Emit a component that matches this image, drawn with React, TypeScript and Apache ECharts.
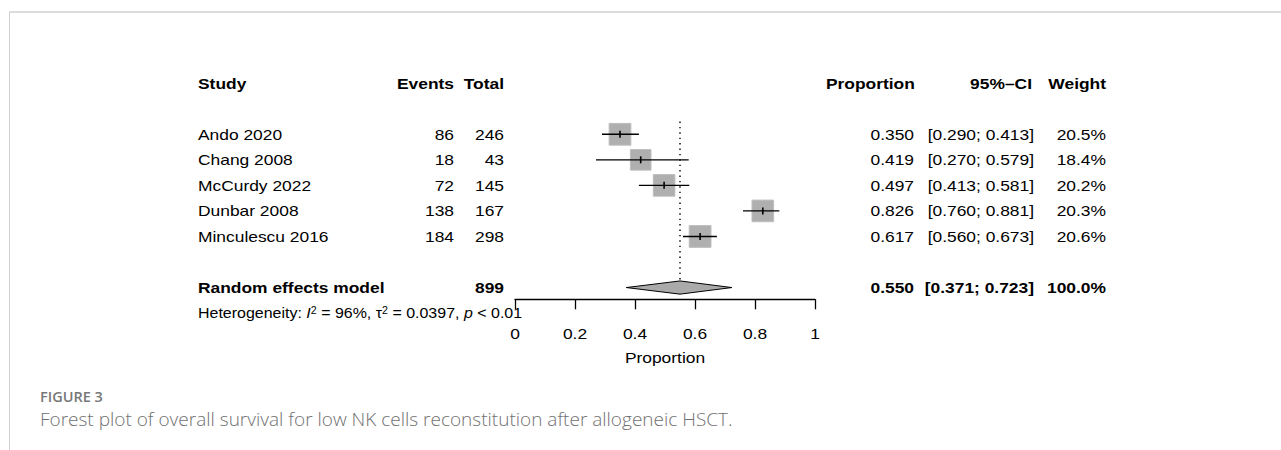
import React, { useEffect, useRef } from "react";
import * as echarts from "echarts";

const studies = ["Ando 2020", "Chang 2008", "McCurdy 2022", "Dunbar 2008", "Minculescu 2016"];
const events = [86, 18, 72, 138, 184];
const totals = [246, 43, 145, 167, 298];
const proportions = [0.35, 0.419, 0.497, 0.826, 0.617];
const ciLower = [0.29, 0.27, 0.413, 0.76, 0.56];
const ciUpper = [0.413, 0.579, 0.581, 0.881, 0.673];
const weights = [20.5, 18.4, 20.2, 20.3, 20.6];

const pooledLabel = "Random effects model";
const pooledTotal = 899;
const pooledEst = 0.55;
const pooledLower = 0.371;
const pooledUpper = 0.723;
const pooledWeight = 100;

const hetI2 = "96%";
const hetTau2 = "0.0397";
const hetP = "< 0.01";

const headers = ["Study", "Events", "Total", "Proportion", "95%\u2013CI", "Weight"];
const xTicks = [0, 0.2, 0.4, 0.6, 0.8, 1];
const axisName = "Proportion";
const captionTitle = "FIGURE 3";
const captionText = "Forest plot of overall survival for low NK cells reconstitution after allogeneic HSCT.";

// row indices (y axis value space)
const headerRow = 0;
const studyRows = [2, 3, 4, 5, 6];
const pooledRow = 8;
const hetRow = 9;

const FONT = "'Liberation Sans', Arial, Helvetica, sans-serif";
const SX = 1.16;
const COL = { study: 198, events: 454, total: 504, prop: 914, ci: 1034, weight: 1106 };

function txt(x: number, y: number, text: string, align: string, bold = false, extra: any = {}, sx = SX) {
  return {
    type: "text",
    x,
    y,
    scaleX: sx,
    style: {
      text,
      x: 0,
      y: 0,
      fill: "#000",
      fontSize: 15,
      fontFamily: FONT,
      fontWeight: bold ? "bold" : "normal",
      align,
      verticalAlign: "middle",
      ...extra,
    },
  };
}

const fmtCI = (l: number, u: number) => `[${l.toFixed(3)}; ${u.toFixed(3)}]`;

export default function App() {
  const ref = useRef<HTMLDivElement>(null);
  useEffect(() => {
    const chart = echarts.init(ref.current!, null, { renderer: "svg" });
    const option: any = {
      animation: false,
      backgroundColor: "#fff",
      grid: { left: 515, width: 300, top: 83.2, height: 216.1, containLabel: false },
      xAxis: {
        type: "value",
        min: 0,
        max: 1,
        interval: 0.2,
        position: "bottom",
        axisLine: { show: true, onZero: false, lineStyle: { color: "#000", width: 1.3 } },
        axisTick: { show: true, length: 10, lineStyle: { color: "#000", width: 1.3 } },
        axisLabel: { show: false },
        splitLine: { show: false },
      },
      yAxis: { type: "value", inverse: true, min: 0, max: 8.46, show: false, splitLine: { show: false } },
      graphic: [
        { type: "line", shape: { x1: 9, y1: 12, x2: 1281, y2: 12 }, style: { stroke: "#dcdcdc", lineWidth: 2 } },
        { type: "line", shape: { x1: 9.5, y1: 12, x2: 9.5, y2: 450 }, style: { stroke: "#cfcfcf", lineWidth: 1 } },
        {
          type: "text",
          x: 40,
          y: 396,
          style: { text: captionTitle, fill: "#777", fontSize: 14.5, fontWeight: 600, fontFamily: "'Open Sans', sans-serif", verticalAlign: "middle" },
        },
        {
          type: "text",
          x: 40,
          y: 419,
          style: { text: captionText, fill: "#707070", fontSize: 19, fontWeight: 300, fontFamily: "'Open Sans', Lato, sans-serif", verticalAlign: "middle" },
        },
      ],
      series: [
        // header row
        {
          type: "custom",
          data: [[0, headerRow]],
          renderItem: (params: any, api: any) => {
            const y = api.coord([0, api.value(1)])[1];
            return {
              type: "group",
              children: [
                txt(COL.study, y, headers[0], "left", true),
                txt(COL.events, y, headers[1], "right", true),
                txt(COL.total, y, headers[2], "right", true),
                txt(COL.prop - 88, y, headers[3], "left", true),
                txt(COL.ci - 2, y, headers[4], "right", true),
                txt(COL.weight, y, headers[5], "right", true),
              ],
            };
          },
        },
        // study text rows
        {
          type: "custom",
          data: studyRows.map((r, i) => [proportions[i], r]),
          renderItem: (params: any, api: any) => {
            const i = params.dataIndex;
            const y = api.coord([0, api.value(1)])[1];
            return {
              type: "group",
              children: [
                txt(COL.study, y, studies[i], "left"),
                txt(COL.events, y, String(events[i]), "right"),
                txt(COL.total, y, String(totals[i]), "right"),
                txt(COL.prop, y, proportions[i].toFixed(3), "right"),
                txt(COL.ci, y, fmtCI(ciLower[i], ciUpper[i]), "right"),
                txt(COL.weight, y, weights[i].toFixed(1) + "%", "right"),
              ],
            };
          },
        },
        // pooled row text + heterogeneity
        {
          type: "custom",
          data: [[pooledEst, pooledRow]],
          renderItem: (params: any, api: any) => {
            const y = api.coord([0, pooledRow])[1];
            const yh = api.coord([0, hetRow])[1];
            return {
              type: "group",
              children: [
                txt(COL.study, y, pooledLabel, "left", true),
                txt(COL.total, y, String(pooledTotal), "right", true),
                txt(COL.prop, y, pooledEst.toFixed(3), "right", true),
                txt(COL.ci, y, fmtCI(pooledLower, pooledUpper), "right", true),
                txt(COL.weight, y, pooledWeight.toFixed(1) + "%", "right", true),
                txt(
                  COL.study,
                  yh,
                  `Heterogeneity: {it|I}{sup|2} = ${hetI2}, \u03c4{sup|2} = ${hetTau2}, {it|p} ${hetP}`,
                  "left",
                  false,
                  {
                    rich: {
                      it: { fontStyle: "italic", fontSize: 15, fontFamily: FONT, fill: "#000" },
                      sup: { fontSize: 10, fontFamily: FONT, fill: "#000", verticalAlign: "top" },
                    },
                  },
                  1.065
                ),
              ],
            };
          },
        },
        // reference dotted line + diamond
        {
          type: "custom",
          data: [[pooledEst, pooledRow, pooledLower, pooledUpper]],
          z: 3,
          renderItem: (params: any, api: any) => {
            const c = api.coord([api.value(0), api.value(1)]);
            const top = api.coord([api.value(0), 1.5])[1];
            const l = api.coord([api.value(2), api.value(1)]);
            const u = api.coord([api.value(3), api.value(1)]);
            const h = 6.6;
            return {
              type: "group",
              children: [
                {
                  type: "line",
                  shape: { x1: c[0], y1: top, x2: c[0], y2: c[1] },
                  style: { stroke: "#000", lineWidth: 1.4, lineDash: [1.4, 4] },
                },
                {
                  type: "polygon",
                  shape: { points: [[l[0], c[1]], [c[0], c[1] - h], [u[0], c[1]], [c[0], c[1] + h]] },
                  style: { fill: "#aaaaaa", stroke: "#000", lineWidth: 1 },
                },
              ],
            };
          },
        },
        // study squares and CIs
        {
          type: "custom",
          z: 4,
          data: studyRows.map((r, i) => [proportions[i], r, ciLower[i], ciUpper[i], weights[i]]),
          renderItem: (params: any, api: any) => {
            const c = api.coord([api.value(0), api.value(1)]);
            const l = api.coord([api.value(2), api.value(1)]);
            const u = api.coord([api.value(3), api.value(1)]);
            const s = 4.8 * Math.sqrt(api.value(4));
            return {
              type: "group",
              children: [
                { type: "rect", shape: { x: c[0] - s / 2, y: c[1] - s / 2, width: s, height: s }, style: { fill: "#afafaf", stroke: "#bdbdbd", lineWidth: 1 } },
                { type: "line", shape: { x1: l[0], y1: c[1], x2: u[0], y2: c[1] }, style: { stroke: "#000", lineWidth: 1.4 } },
                { type: "line", shape: { x1: c[0], y1: c[1] - 3.5, x2: c[0], y2: c[1] + 3.5 }, style: { stroke: "#000", lineWidth: 1.6 } },
              ],
            };
          },
        },
        // axis tick labels + axis name
        {
          type: "custom",
          data: xTicks.map((t) => [t, 0]),
          renderItem: (params: any, api: any) => {
            const x = api.coord([api.value(0), 0])[0];
            const children: any[] = [txt(x, 333, String(api.value(0)), "center")];
            if (params.dataIndex === 0) {
              const xm = api.coord([0.5, 0])[0];
              children.push(txt(xm, 357, axisName, "center"));
            }
            return { type: "group", children };
          },
        },
      ],
    };
    chart.setOption(option);
    return () => chart.dispose();
  }, []);
  return <div ref={ref} style={{ position: "fixed", left: 0, top: 0, width: 1281, height: 450 }} />;
}
